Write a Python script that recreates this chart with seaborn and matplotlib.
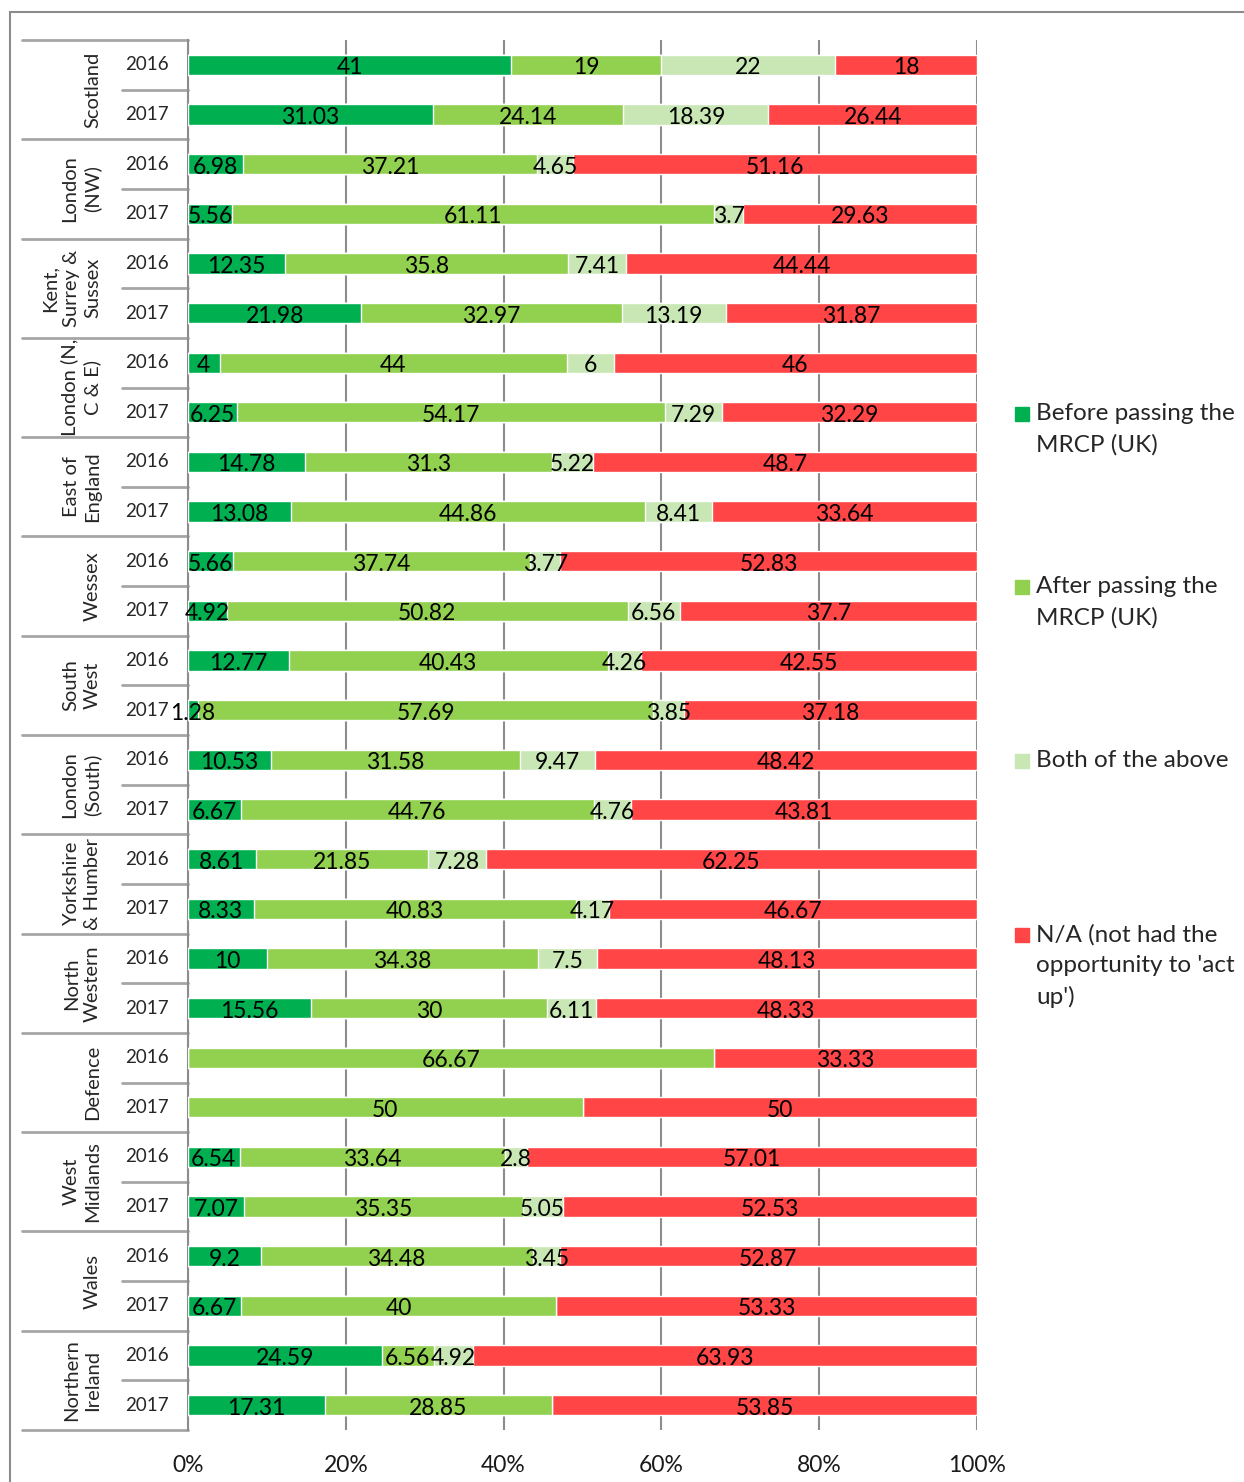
import matplotlib
matplotlib.use("Agg")
import matplotlib.pyplot as plt
from matplotlib.patches import Rectangle
from matplotlib.transforms import blended_transform_factory
import numpy as np
import pandas as pd
import seaborn as sns

# Deaneries / regions (top to bottom) and survey years
regions = ["Scotland", "London\n(NW)", "Kent,\nSurrey &\nSussex", "London (N,\nC & E)",
           "East of\nEngland", "Wessex", "South\nWest", "London\n(South)",
           "Yorkshire\n& Humber", "North\nWestern", "Defence", "West\nMidlands",
           "Wales", "Northern\nIreland"]
years = ["2016", "2017"]

series_names = ["Before passing the\nMRCP (UK)", "After passing the\nMRCP (UK)",
                "Both of the above", "N/A (not had the\nopportunity to 'act\nup')"]

# Percentages per row: region x year, in the same order as above
before = [41, 31.03, 6.98, 5.56, 12.35, 21.98, 4, 6.25, 14.78, 13.08, 5.66, 4.92,
          12.77, 1.28, 10.53, 6.67, 8.61, 8.33, 10, 15.56, 0, 0, 6.54, 7.07,
          9.2, 6.67, 24.59, 17.31]
after = [19, 24.14, 37.21, 61.11, 35.8, 32.97, 44, 54.17, 31.3, 44.86, 37.74, 50.82,
         40.43, 57.69, 31.58, 44.76, 21.85, 40.83, 34.38, 30, 66.67, 50, 33.64, 35.35,
         34.48, 40, 6.56, 28.85]
both = [22, 18.39, 4.65, 3.7, 7.41, 13.19, 6, 7.29, 5.22, 8.41, 3.77, 6.56,
        4.26, 3.85, 9.47, 4.76, 7.28, 4.17, 7.5, 6.11, 0, 0, 2.8, 5.05,
        3.45, 0, 4.92, 0]
na = [18, 26.44, 51.16, 29.63, 44.44, 31.87, 46, 32.29, 48.7, 33.64, 52.83, 37.7,
      42.55, 37.18, 48.42, 43.81, 62.25, 46.67, 48.13, 48.33, 33.33, 50, 57.01, 52.53,
      52.87, 53.33, 63.93, 53.85]

xtick_vals = [0, 20, 40, 60, 80, 100]
xtick_labels = ["0%", "20%", "40%", "60%", "80%", "100%"]

colors = ["#00B050", "#92D050", "#C9E7B4", "#FF4545"]
grid_c = "#8C8C8C"
line_c = "#A6A6A6"

sns.set_style("white")
plt.rcParams["font.family"] = ["Lato", "DejaVu Sans"]

W, H = 1244, 1482
fig = plt.figure(figsize=(W / 100, H / 100), dpi=100)
ax = fig.add_axes([188 / W, 52 / H, 789 / W, 1390 / H])

row_ids = [f"{r.replace(chr(10), ' ')} {y}" for r in regions for y in years]
values = np.array([before, after, both, na], dtype=float)
cum = np.cumsum(values, axis=0)

df = pd.DataFrame({"row": row_ids})
for i in range(4):
    df[f"cum{i}"] = cum[i]

# Stacked bars: draw cumulative totals from the outermost series inward
for i in range(3, -1, -1):
    sns.barplot(data=df, x=f"cum{i}", y="row", orient="h", color=colors[i],
                saturation=1, width=0.41, errorbar=None, ax=ax, zorder=3)

# Segment labels
for j in range(len(row_ids)):
    for i in range(4):
        v = values[i, j]
        if v <= 0:
            continue
        start = cum[i, j] - v
        ax.text(start + v / 2, j + 0.06, f"{v:g}", ha="center", va="center",
                fontsize=16.5, color="black", zorder=5)

ax.set_xlim(0, 100)
ax.set_ylim(len(row_ids) - 0.5, -0.5)
ax.set_xlabel("")
ax.set_ylabel("")
ax.set_yticks([])
ax.set_xticks(xtick_vals)
ax.set_xticklabels(xtick_labels, fontsize=16.5, color="#1a1a1a")
ax.tick_params(axis="x", direction="out", length=6, width=1.5, color=grid_c, pad=12)
for x in xtick_vals:
    ax.axvline(x, color=grid_c, lw=1.5, zorder=1)
for s in ["top", "right", "bottom"]:
    ax.spines[s].set_visible(False)
ax.spines["left"].set_color(grid_c)
ax.spines["left"].set_linewidth(1.5)

# Two-level category axis on the left
tr = blended_transform_factory(ax.transAxes, ax.transData)
x_outer = (22 - 188) / 789
x_inner = (122 - 188) / 789
for k in range(len(regions) + 1):
    yb = 2 * k - 0.5
    ax.plot([x_outer, 0], [yb, yb], transform=tr, color=line_c, lw=2, clip_on=False)
for k in range(len(regions)):
    ym = 2 * k + 0.5
    ax.plot([x_inner, 0], [ym, ym], transform=tr, color=line_c, lw=2, clip_on=False)
    ax.text((101 - 188) / 789, 2 * k + 0.5, regions[k], transform=tr, rotation=90,
            ha="right", va="center", multialignment="center", fontsize=14.5,
            linespacing=1.3)
for j in range(len(row_ids)):
    ax.text((147 - 188) / 789, j, years[j % 2], transform=tr, ha="center",
            va="center", fontsize=13.5)

# Legend drawn as swatches with text
leg_y = [414, 587, 761, 935]
for i in range(4):
    yc = 1 - leg_y[i] / H
    fig.patches.append(Rectangle((1015 / W, yc - 7 / H), 14 / W, 14 / H,
                                 transform=fig.transFigure, color=colors[i]))
    fig.text(1036 / W, yc + 11 / H, series_names[i], ha="left", va="top",
             fontsize=17.5, linespacing=1.55)

# Outer chart frame
fig.patches.append(Rectangle((10 / W, -0.05), 1.2, 1 - 12 / H + 0.05,
                             transform=fig.transFigure, fill=False,
                             edgecolor="#8C8C8C", lw=1.5))

fig.savefig("out.png", dpi=100)
